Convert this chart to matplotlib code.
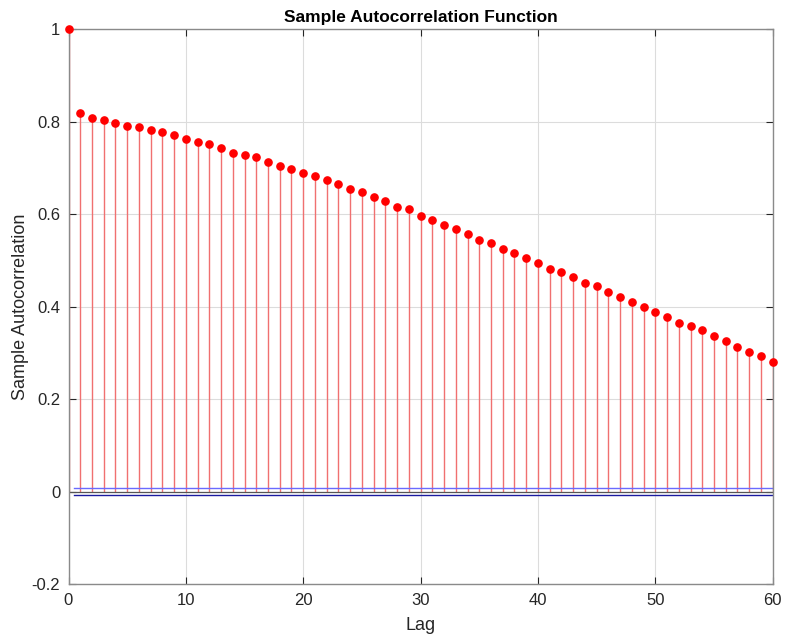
import matplotlib
matplotlib.use("Agg")
import matplotlib.pyplot as plt
import numpy as np

plt.rcParams['font.family'] = ['Liberation Sans', 'DejaVu Sans']

lags = list(range(0, 61))
acf = [1.0,
       0.818, 0.809, 0.803, 0.798, 0.791, 0.788, 0.782, 0.777, 0.772, 0.763,
       0.756, 0.751, 0.744, 0.733, 0.728, 0.723, 0.714, 0.704, 0.697, 0.690,
       0.682, 0.674, 0.666, 0.655, 0.648, 0.637, 0.629, 0.616, 0.611, 0.597,
       0.588, 0.577, 0.568, 0.557, 0.545, 0.538, 0.524, 0.517, 0.505, 0.495,
       0.482, 0.475, 0.464, 0.452, 0.445, 0.431, 0.421, 0.410, 0.400, 0.389,
       0.379, 0.366, 0.358, 0.349, 0.336, 0.326, 0.314, 0.302, 0.293, 0.281]
bound = 0.0075
xticks = [0, 10, 20, 30, 40, 50, 60]
yticks = [-0.2, 0, 0.2, 0.4, 0.6, 0.8, 1]
ytick_labels = ['-0.2', '0', '0.2', '0.4', '0.6', '0.8', '1']

fig = plt.figure(figsize=(7.85, 6.39), dpi=100)
ax = fig.add_axes([68.5/785, 1-584.3/639, (772.7-68.5)/785, (584.3-29.3)/639])

ax.grid(True, color='#dcdcdc', linewidth=0.8, zorder=0)
ax.set_axisbelow(True)

ax.vlines(lags, 0, acf, colors='#f07070', linewidth=1.0, zorder=2)
ax.plot(lags, acf, 'o', color='#ff0000', markersize=5.2, zorder=3, clip_on=False)

ax.plot([0, 60], [0, 0], color='#555555', linewidth=0.9, zorder=2)
ax.plot([0.5, 60], [bound, bound], color='#6a6aff', linewidth=1.0, zorder=2)
ax.plot([0.5, 60], [-bound, -bound], color='#1a1aa0', linewidth=1.0, zorder=2)

ax.set_xlim(0, 60)
ax.set_ylim(-0.2, 1)
ax.set_xticks(xticks)
ax.set_xticklabels([str(t) for t in xticks])
ax.set_yticks(yticks)
ax.set_yticklabels(ytick_labels)
ax.tick_params(direction='in', top=True, right=True, length=5, width=0.8,
               colors='#262626', labelsize=12, pad=6)
for s in ax.spines.values():
    s.set_color('#8a8a8a')
    s.set_linewidth(1.0)

ax.set_title('Sample Autocorrelation Function', fontsize=12.5, fontweight='bold', pad=5)
ax.set_xlabel('Lag', fontsize=13, color='#262626', labelpad=7)
ax.set_ylabel('Sample Autocorrelation', fontsize=13, color='#262626', labelpad=1.5)

fig.savefig('out.png', dpi=100)
